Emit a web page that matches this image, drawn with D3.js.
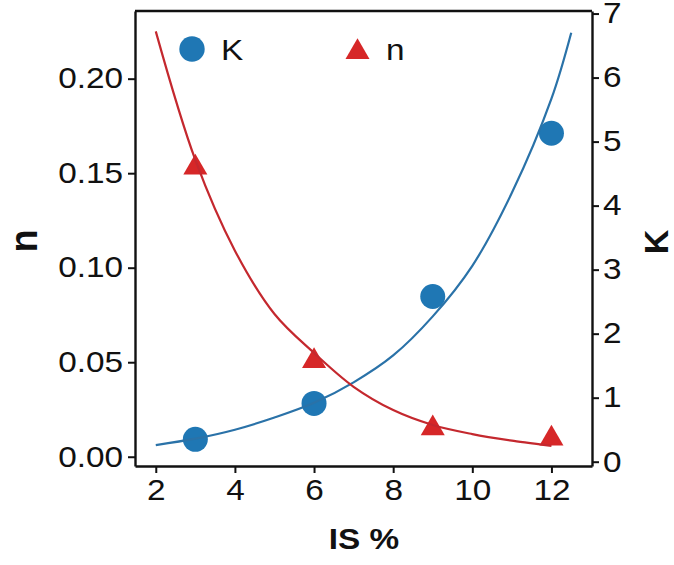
<!DOCTYPE html>
<html>
<head>
<meta charset="utf-8">
<script src="https://cdn.jsdelivr.net/npm/d3@7"></script>
<style>
  body { margin: 0; background: #fff; }
  text { font-family: "Liberation Sans", Arial, sans-serif; fill: #111; }
</style>
</head>
<body>
<div id="chart"></div>
<script>
// measured points
const isPct = [3, 6, 9, 12];
const kValues = [0.35, 0.91, 2.58, 5.13];
const nValues = [0.154, 0.0517, 0.0161, 0.0107];

// fitted curves
const kFitX = [2, 3, 4, 5, 6, 7, 8, 9, 10, 11, 12, 12.5];
const kFitY = [0.26, 0.36, 0.5, 0.69, 0.92, 1.24, 1.66, 2.27, 3.06, 4.2, 5.67, 6.7];
const nFitX = [2, 3, 4, 5, 6, 7, 8, 9, 10, 11, 12];
const nFitY = [0.225, 0.157, 0.109, 0.0755, 0.0549, 0.037, 0.0247, 0.0168, 0.012, 0.0085, 0.0057];

const xTicks = [2, 4, 6, 8, 10, 12];
const nTicks = [0, 0.05, 0.1, 0.15, 0.2];
const kTicks = [0, 1, 2, 3, 4, 5, 6, 7];

const blue = "#1f77b4";
const red = "#d62728";
const stretch = "scale(1.15,1)"; // the reference text is a bit wide

const width = 674;
const height = 565;
const margin = { top: 11, right: 82, bottom: 99, left: 135 };

const svg = d3
  .select("#chart")
  .append("svg")
  .attr("width", width)
  .attr("height", height);

const x = d3.scaleLinear().domain([1.475, 13.025]).range([margin.left, width - margin.right]);
const yN = d3.scaleLinear().domain([-0.0049, 0.2358]).range([height - margin.bottom, margin.top]);
const yK = d3.scaleLinear().domain([-0.067, 7.04]).range([height - margin.bottom, margin.top]);

function styleAxis(g) {
  g.selectAll("path").attr("stroke", "#111").attr("stroke-width", 2.4);
  g.selectAll("line").attr("stroke", "#111").attr("stroke-width", 2);
  g.selectAll("text")
    .attr("font-size", 29)
    .attr("fill", "#111")
    .attr("font-family", "Liberation Sans, Arial, sans-serif")
    .attr("transform", stretch);
}

// box top line
svg
  .append("line")
  .attr("x1", margin.left)
  .attr("x2", width - margin.right)
  .attr("y1", margin.top)
  .attr("y2", margin.top)
  .attr("stroke", "#111")
  .attr("stroke-width", 2.4);

svg
  .append("g")
  .attr("transform", "translate(0," + (height - margin.bottom) + ")")
  .call(d3.axisBottom(x).tickValues(xTicks).tickSize(7).tickPadding(6).tickSizeOuter(0))
  .call(styleAxis);

svg
  .append("g")
  .attr("transform", "translate(" + margin.left + ",0)")
  .call(d3.axisLeft(yN).tickValues(nTicks).tickFormat(d3.format(".2f")).tickSize(7).tickPadding(3.4).tickSizeOuter(0))
  .call(styleAxis);

svg
  .append("g")
  .attr("transform", "translate(" + (width - margin.right) + ",0)")
  .call(d3.axisRight(yK).tickValues(kTicks).tickFormat(d3.format("d")).tickSize(7).tickPadding(2.6).tickSizeOuter(0))
  .call(styleAxis);

// markers
svg
  .selectAll(".kdot")
  .data(isPct)
  .enter()
  .append("circle")
  .attr("class", "kdot")
  .attr("cx", (d) => x(d))
  .attr("cy", (d, i) => yK(kValues[i]))
  .attr("r", 12.5)
  .attr("fill", blue);

const tri = d3.symbol().type(d3.symbolTriangle).size(250);
svg
  .selectAll(".ntri")
  .data(isPct)
  .enter()
  .append("path")
  .attr("class", "ntri")
  .attr("d", tri)
  .attr("transform", (d, i) => "translate(" + x(d) + "," + (yN(nValues[i]) + 2) + ")")
  .attr("fill", red);

// fit lines
const kLine = d3
  .line()
  .x((d) => x(d))
  .y((d, i) => yK(kFitY[i]))
  .curve(d3.curveCatmullRom);
svg
  .append("path")
  .attr("d", kLine(kFitX))
  .attr("fill", "none")
  .attr("stroke", "#2a72a8")
  .attr("stroke-width", 2.2);

const nLine = d3
  .line()
  .x((d) => x(d))
  .y((d, i) => yN(nFitY[i]))
  .curve(d3.curveCatmullRom);
svg
  .append("path")
  .attr("d", nLine(nFitX))
  .attr("fill", "none")
  .attr("stroke", "#c4282e")
  .attr("stroke-width", 2.2);

// legend
svg.append("circle").attr("cx", 192).attr("cy", 49).attr("r", 12.7).attr("fill", blue);
svg.append("text").attr("transform", "translate(221,60) " + stretch).attr("font-size", 29).text("K");
svg
  .append("path")
  .attr("d", tri)
  .attr("transform", "translate(357.5,52)")
  .attr("fill", red);
svg.append("text").attr("transform", "translate(386,60) " + stretch).attr("font-size", 29).text("n");

// axis titles
svg
  .append("text")
  .attr("text-anchor", "middle")
  .attr("font-size", 38)
  .attr("font-weight", "bold")
  .attr("transform", "translate(37,241) rotate(-90)")
  .text("n");
svg
  .append("text")
  .attr("text-anchor", "middle")
  .attr("font-size", 34)
  .attr("font-weight", "bold")
  .attr("transform", "translate(668,242) rotate(-90)")
  .text("K");
svg
  .append("text")
  .attr("text-anchor", "middle")
  .attr("transform", "translate(364,549) " + stretch)
  .attr("font-size", 29)
  .attr("font-weight", "bold")
  .text("IS %");
</script>
</body>
</html>
